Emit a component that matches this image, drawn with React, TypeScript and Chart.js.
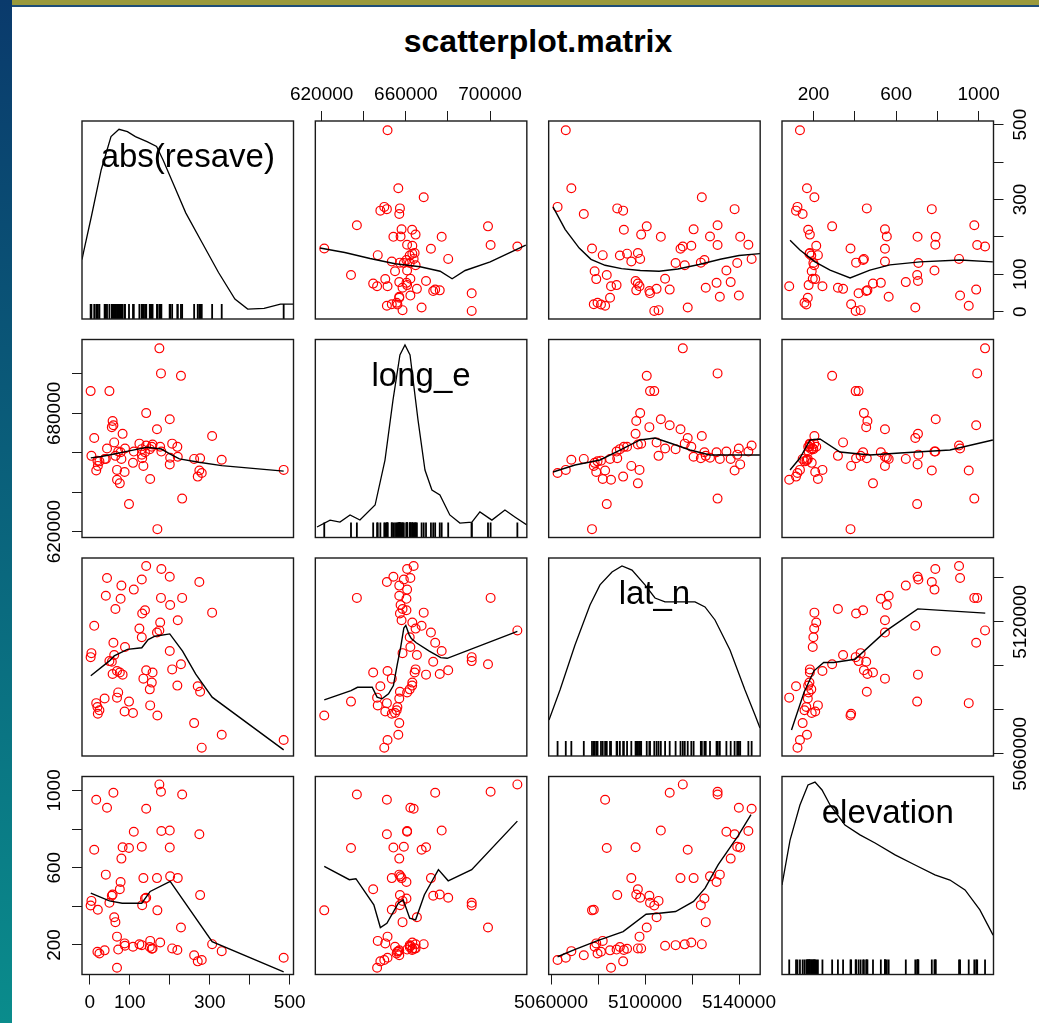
import React, { useEffect, useRef } from "react";
import { Chart, registerables } from "chart.js";

Chart.register(...registerables);

const FONT = '"Liberation Sans", Arial, Helvetica, sans-serif';

// ---------------- data ----------------
const varNames = ["abs(resave)", "long_e", "lat_n", "elevation"];

const resave = [
  280, 485, 330, 261, 169, 20, 24, 108, 87, 19, 151, 16, 98, 68, 37, 71, 276, 150, 270, 219, 155,
  134, 82, 57, 75, 157, 68, 141, 206, 228, 55, 49, 2, 61, 4, 200, 88, 59, 130, 168, 174, 124, 11,
  176, 220, 131, 306, 138, 64, 201, 77, 40, 178, 231, 110, 79, 274, 130, 200, 43, 179, 141,
];
const longE = [
  649760, 651310, 656430, 656890, 621240, 653330, 655650, 654880, 650230, 656000, 646660, 651000,
  633950, 646350, 656890, 660610, 657200, 661850, 647900, 663000, 663090, 653330, 669600, 676120,
  644490, 664180, 651310, 680140, 664640, 699050, 673020, 691300, 691300, 665260, 658440, 677040,
  662160, 673950, 661850, 671930, 713000, 664640, 667500, 663090, 657980, 657200, 668500, 660300,
  658440, 657510, 660300, 656890, 700290, 636740, 660610, 656890, 651000, 659060, 654100, 662160,
  660610, 663710,
];
const latN = [
  5062790, 5066280, 5068650, 5073950, 5077440, 5078200, 5079800, 5078560, 5079250, 5081260, 5082000,
  5083020, 5083720, 5085530, 5085110, 5087900, 5088180, 5089300, 5090690, 5091000, 5092360, 5094170,
  5095980, 5096270, 5096960, 5096960, 5097660, 5097940, 5098360, 5100730, 5101850, 5102130, 5103940,
  5104920, 5105760, 5106730, 5108540, 5110500, 5113010, 5115100, 5116080, 5116910, 5118170, 5119700,
  5120680, 5123750, 5124170, 5125280, 5125840, 5127650, 5130440, 5131840, 5130870, 5130870, 5134630,
  5136450, 5138120, 5139240, 5140500, 5139930, 5143980, 5145370,
];
const elevation = [
  122, 134, 168, 147, 379, 382, 156, 191, 208, 165, 221, 952, 702, 82, 172, 176, 458, 189, 115, 174,
  180, 546, 706, 461, 488, 182, 243, 444, 182, 290, 455, 418, 404, 343, 428, 792, 196, 988, 199, 546,
  1031, 203, 693, 213, 546, 406, 204, 440, 318, 555, 526, 564, 993, 979, 786, 647, 773, 708, 704, 910,
  790, 905,
];

// axis ticks and labels
const resaveTicks = [0, 100, 200, 300, 400, 500];
const longTicks = [620000, 640000, 660000, 680000, 700000];
const latTicks = [5060000, 5080000, 5100000, 5120000, 5140000];
const elevTicks = [200, 400, 600, 800, 1000];

const resaveBottomLabels = ["0", "100", "300", "500"];
const resaveRightLabels = ["0", "100", "300", "500"];
const longTopLabels = ["620000", "660000", "700000"];
const longLeftLabels = ["620000", "680000"];
const latBottomLabels = ["5060000", "5100000", "5140000"];
const latRightLabels = ["5060000", "5120000"];
const elevTopLabels = ["200", "600", "1000"];
const elevLeftLabels = ["200", "600", "1000"];

// smoothers: [x, y] where x = column variable, y = row variable
const smoothLongResave = [[619200, 170], [631000, 158], [643000, 142], [654900, 128], [666800, 120], [676300, 108], [682000, 88], [688200, 110], [700100, 133], [717000, 178]];
const smoothLatResave = [[5060840, 280], [5066000, 220], [5072000, 170], [5077000, 140], [5083000, 124], [5090000, 115], [5098000, 110], [5106000, 108], [5114000, 114], [5123000, 126], [5132000, 140], [5140000, 150], [5148920, 155]];
const smoothElevResave = [[86, 191], [134, 165], [207, 133], [280, 111], [377, 90], [473, 111], [570, 125], [716, 133], [910, 138], [1069, 133]];
const smoothResaveLong = [[2.4, 657400], [28.5, 658100], [61, 659400], [102, 661100], [143, 662800], [179, 661900], [200, 659400], [224, 656900], [273, 655200], [330, 653500], [485, 650700]];
const smoothLatLong = [[5060840, 650240], [5070200, 653800], [5080840, 656340], [5089360, 661410], [5097870, 666490], [5104250, 667500], [5110630, 664970], [5119140, 661410], [5127650, 658870], [5140420, 658870], [5148920, 658870]];
const smoothElevLong = [[86, 651250], [134, 657340], [183, 666490], [231, 667000], [328, 660400], [473, 658870], [619, 659890], [861, 661410], [1069, 666490]];
const smoothResaveLat = [[2.4, 5095480], [49, 5102220], [61, 5104500], [94, 5107450], [130, 5108200], [146, 5111900], [163, 5113440], [200, 5114490], [232, 5106700], [265, 5096200], [306, 5085750], [485, 5061800]];
const smoothLongLat = [[621240, 5084550], [633950, 5088740], [637050, 5090240], [644030, 5090240], [646350, 5085750], [648680, 5085000], [651780, 5087250], [654100, 5090990], [655960, 5100720], [657510, 5108200], [659060, 5117180], [659990, 5118380], [661540, 5114190], [662630, 5112400], [664950, 5110450], [671150, 5106700], [676580, 5103710], [679680, 5103410], [713000, 5115690]];
const smoothElevLat = [[93, 5070780], [154, 5088000], [202, 5097720], [249, 5101470], [297, 5101470], [401, 5102970], [553, 5115990], [705, 5125870], [1032, 5123920]];
const smoothResaveElev = [[2.4, 468], [49, 428], [81, 416], [130, 416], [151, 477], [201, 529], [306, 217], [485, 61]];
const smoothLongElev = [[621240, 607], [633180, 538], [636280, 543], [644800, 408], [647900, 290], [651000, 312], [656430, 416], [658750, 434], [661850, 338], [664650, 330], [668830, 460], [675490, 590], [680140, 532], [691300, 590], [713000, 841]];
const smoothLatElev = [[5062790, 139], [5069770, 174], [5079530, 221], [5090690, 269], [5100450, 359], [5106040, 364], [5113010, 373], [5120680, 425], [5125570, 494], [5131150, 616], [5139520, 763], [5145100, 875]];

// density curves on the diagonal (x = variable, y = relative height 0..100)
const densResave = [[-19.6, 30], [-16, 33.5], [4, 51.9], [28.5, 75.4], [53, 92.1], [73, 95.8], [94, 94.6], [114, 92.1], [143, 89.6], [167, 87.1], [183, 80.4], [208, 68.7], [240, 53.6], [281, 38.5], [322, 23.5], [363, 10.1], [395, 5.0], [436, 5.4], [477, 7.5], [509.6, 7.5]];
const densLong = [[617800, 5.3], [624000, 8.8], [628700, 7.8], [633500, 11.4], [638200, 8.8], [645400, 16.4], [650100, 39.1], [653900, 69.4], [657200, 92.2], [659600, 97.2], [662000, 92.2], [665800, 59.3], [669100, 34.1], [672400, 24.0], [676200, 21.5], [680900, 11.4], [685700, 7.3], [691400, 7.8], [695200, 12.9], [700900, 8.8], [707100, 13.9], [711800, 10.4], [717500, 6.3]];
const densLat = [[5059140, 18.2], [5063820, 33.3], [5070200, 56.1], [5076590, 76.3], [5080840, 86.4], [5085950, 92.9], [5090200, 96.0], [5094460, 93.9], [5099990, 86.4], [5104250, 79.8], [5108500, 77.8], [5114890, 77.8], [5121270, 77.8], [5125520, 75.3], [5129780, 68.7], [5136160, 53.5], [5142540, 33.3], [5146800, 20.7], [5148920, 14.1]];
const densElev = [[47, 45.2], [86, 67.9], [134, 85.6], [173, 95.7], [207, 97.2], [241, 93.2], [280, 85.6], [352, 75.5], [425, 70.5], [498, 66.4], [595, 60.4], [692, 55.3], [788, 50.3], [861, 47.7], [934, 42.7], [1006, 32.6], [1070, 19.9]];

// ---------------- setup ----------------
const columns = [resave, longE, latN, elevation];
const ranges: [number, number][] = [
  [-19.6, 509.6],
  [617000, 717500],
  [5059000, 5149000],
  [47, 1072],
];
const tickSets = [resaveTicks, longTicks, latTicks, elevTicks];
const xLabelSets: Record<string, string[]> = {
  "3-0": resaveBottomLabels,
  "0-1": longTopLabels,
  "3-2": latBottomLabels,
  "0-3": elevTopLabels,
};
const yLabelSets: Record<string, string[]> = {
  "0-3": resaveRightLabels,
  "1-0": longLeftLabels,
  "2-3": latRightLabels,
  "3-0": elevLeftLabels,
};
const smoothers: Record<string, number[][]> = {
  "0-1": smoothLongResave,
  "0-2": smoothLatResave,
  "0-3": smoothElevResave,
  "1-0": smoothResaveLong,
  "1-2": smoothLatLong,
  "1-3": smoothElevLong,
  "2-0": smoothResaveLat,
  "2-1": smoothLongLat,
  "2-3": smoothElevLat,
  "3-0": smoothResaveElev,
  "3-1": smoothLongElev,
  "3-2": smoothLatElev,
};
const densities = [densResave, densLong, densLat, densElev];

const COL_LEFT = [82, 315.33, 548.67, 782];
const ROW_TOP = [121, 339.5, 558, 776.5];
const PW = 211.5;
const PH = 198;
const M = 64;
const AX = 50;
const TICK_LEN = 10;
const TICK_FONT = 19;

function measureWidest(labels: string[]): number {
  const c = document.createElement("canvas");
  const ctx = c.getContext("2d");
  if (!ctx) return 0;
  ctx.font = `${TICK_FONT}px ${FONT}`;
  let w = 0;
  labels.forEach((l) => {
    w = Math.max(w, ctx.measureText(l).width);
  });
  return w;
}

const framePlugin = {
  id: "frame",
  afterDraw(chart: any, _args: any, opts: any) {
    const { ctx, chartArea: a } = chart;
    ctx.save();
    ctx.strokeStyle = "#1a1a1a";
    ctx.lineWidth = 1.4;
    ctx.strokeRect(a.left, a.top, a.right - a.left, a.bottom - a.top);
    if (opts && opts.label) {
      ctx.font = `33px ${FONT}`;
      ctx.fillStyle = "#000";
      ctx.textAlign = "center";
      ctx.textBaseline = "alphabetic";
      ctx.fillText(opts.label, (a.left + a.right) / 2, a.top + 46);
    }
    ctx.restore();
  },
};

function geometry(r: number, c: number) {
  const L = COL_LEFT[c];
  const T = ROW_TOP[r];
  const cx = Math.floor(L - M);
  const cy = Math.floor(T - M);
  const cw = Math.ceil(L + PW + M) - cx;
  const ch = Math.ceil(T + PH + M) - cy;
  return { L, T, cx, cy, cw, ch };
}

function buildConfig(r: number, c: number): any {
  const { L, T, cx, cy, cw, ch } = geometry(r, c);
  const key = `${r}-${c}`;
  const xTop = r === 0 && c % 2 === 1;
  const xBottom = r === 3 && c % 2 === 0;
  const yLeft = c === 0 && r % 2 === 1;
  const yRight = c === 3 && r % 2 === 0;
  const xShown = xTop || xBottom;
  const yShown = yLeft || yRight;
  const padding = {
    left: L - cx - (yLeft ? AX : 0),
    right: cx + cw - (L + PW) - (yRight ? AX : 0),
    top: T - cy - (xTop ? AX : 0),
    bottom: cy + ch - (T + PH) - (xBottom ? AX : 0),
  };
  const diag = r === c;
  const xVals = columns[c];
  const yVals = columns[r];

  const datasets: any[] = [];
  if (diag) {
    datasets.push({
      type: "line",
      data: densities[c].map(([x, y]) => ({ x, y })),
      borderColor: "#000",
      borderWidth: 1.3,
      pointRadius: 0,
      tension: 0,
      fill: false,
    });
    datasets.push({
      type: "scatter",
      data: xVals.map((v) => ({ x: v, y: 0 })),
      pointStyle: "line",
      pointRotation: 90,
      pointRadius: 15,
      pointBorderColor: "#000",
      pointBorderWidth: 1.8,
      clip: 0,
    });
  } else {
    datasets.push({
      type: "line",
      data: smoothers[key].map(([x, y]) => ({ x, y })),
      borderColor: "#000",
      borderWidth: 1.4,
      pointRadius: 0,
      tension: 0,
      fill: false,
    });
    datasets.push({
      type: "scatter",
      data: xVals.map((v, i) => ({ x: v, y: yVals[i] })),
      pointStyle: "circle",
      pointRadius: 4.4,
      pointBorderWidth: 1.2,
      pointBorderColor: "#ff0000",
      pointBackgroundColor: "rgba(0,0,0,0)",
      showLine: false,
    });
  }

  const gridOpts = {
    display: true,
    drawOnChartArea: false,
    drawTicks: true,
    tickLength: TICK_LEN,
    color: "#1a1a1a",
    lineWidth: 1,
  };

  const xLabels = xLabelSets[key] || [];
  const yLabels = yLabelSets[key] || [];
  const yWidest = measureWidest(yLabels);

  const xScale: any = {
    type: "linear",
    min: ranges[c][0],
    max: ranges[c][1],
    display: xShown,
    position: xTop ? "top" : "bottom",
    afterBuildTicks: (s: any) => {
      s.ticks = tickSets[c].map((v) => ({ value: v }));
    },
    afterFit: (s: any) => {
      s.height = xShown ? AX : 0;
    },
    grid: gridOpts,
    border: { display: false },
    ticks: {
      autoSkip: false,
      maxRotation: 0,
      minRotation: 0,
      padding: xTop ? 4.6 : 6.6,
      color: "#000",
      font: { size: TICK_FONT, family: FONT },
      callback: (v: any) => (xLabels.includes(String(v)) ? String(v) : ""),
    },
  };
  const yScale: any = {
    type: "linear",
    min: diag ? 0 : ranges[r][0],
    max: diag ? 100 : ranges[r][1],
    display: yShown,
    position: yRight ? "right" : "left",
    afterBuildTicks: (s: any) => {
      if (!diag) s.ticks = tickSets[r].map((v) => ({ value: v }));
    },
    afterFit: (s: any) => {
      s.width = yShown ? AX : 0;
    },
    grid: gridOpts,
    border: { display: false },
    ticks: {
      autoSkip: false,
      minRotation: 90,
      maxRotation: 90,
      crossAlign: "center",
      padding: 17 - yWidest / 2,
      color: "#000",
      font: { size: TICK_FONT, family: FONT },
      callback: (v: any) => (yLabels.includes(String(v)) ? String(v) : ""),
    },
  };

  return {
    type: "scatter",
    data: { datasets },
    plugins: [framePlugin],
    options: {
      responsive: false,
      maintainAspectRatio: false,
      devicePixelRatio: 1,
      animation: false,
      events: [],
      layout: { padding },
      scales: { x: xScale, y: yScale },
      plugins: {
        legend: { display: false },
        tooltip: { enabled: false },
        frame: { label: diag ? varNames[c] : "" },
      },
    },
  };
}

function Panel({ r, c }: { r: number; c: number }) {
  const ref = useRef<HTMLCanvasElement | null>(null);
  const { cx, cy, cw, ch } = geometry(r, c);
  useEffect(() => {
    if (!ref.current) return;
    const chart = new Chart(ref.current, buildConfig(r, c));
    return () => chart.destroy();
  }, [r, c]);
  return (
    <canvas
      ref={ref}
      width={cw}
      height={ch}
      style={{ position: "absolute", left: cx, top: cy, width: cw, height: ch }}
    />
  );
}

export default function App() {
  const cells: { r: number; c: number }[] = [];
  for (let r = 0; r < 4; r++) for (let c = 0; c < 4; c++) cells.push({ r, c });
  return (
    <div
      style={{
        position: "absolute",
        left: 0,
        top: 0,
        width: 1039,
        height: 1023,
        background: "#ffffff",
        overflow: "hidden",
      }}
    >
      <div style={{ position: "absolute", left: 0, top: 0, width: 1039, height: 5, background: "#9a9a3c" }} />
      <div style={{ position: "absolute", left: 0, top: 5, width: 1039, height: 2, background: "#1d4d78" }} />
      <div
        style={{
          position: "absolute",
          left: 0,
          top: 0,
          width: 12,
          height: 1023,
          background: "linear-gradient(to bottom, #0a3a6c, #0a8c8c)",
        }}
      />
      <div
        style={{
          position: "absolute",
          left: 0,
          top: 22,
          width: 1076,
          textAlign: "center",
          font: `bold 32px ${FONT}`,
          lineHeight: "38px",
          color: "#000",
        }}
      >
        scatterplot.matrix
      </div>
      {cells.map(({ r, c }) => (
        <Panel key={`${r}-${c}`} r={r} c={c} />
      ))}
    </div>
  );
}
